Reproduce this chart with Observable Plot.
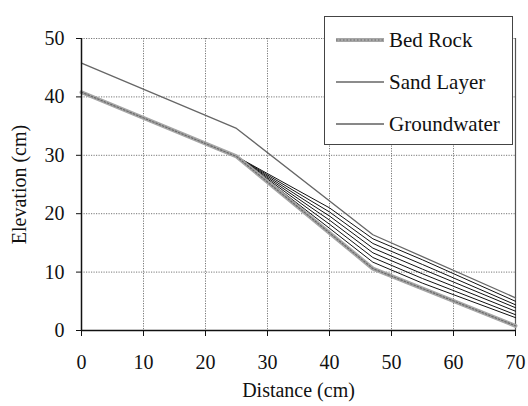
<!DOCTYPE html>
<html>
<head>
<meta charset="utf-8">
<script src="https://cdn.jsdelivr.net/npm/d3@7"></script>
<script src="https://cdn.jsdelivr.net/npm/@observablehq/plot@0.6"></script>
<style>
  html, body { margin: 0; padding: 0; background: white; }
  #wrap { position: relative; width: 528px; height: 406px; font-family: "Liberation Serif", "Times New Roman", Tinos, "DejaVu Serif", "Noto Serif", FreeSerif, serif; }
  #legend { position: absolute; left: 324px; top: 16px; width: 187px; height: 127px; border: 1px solid #444; background: white; }
  .row { position: absolute; left: 0; height: 30px; display: flex; align-items: center; }
  .row svg { margin-left: 11px; }
  .row span { font-size: 21px; color: #111; margin-left: 5px; line-height: 30px; }
</style>
</head>
<body>
<div id="wrap"></div>
<script>
// ---- data ----
const xTicks = [0, 10, 20, 30, 40, 50, 60, 70];
const yTicks = [0, 10, 20, 30, 40, 50];

const seriesNames = ["Bed Rock", "Sand Layer", "Groundwater"];

const bedRockX = [0, 25, 47, 70];
const bedRockY = [40.8, 29.8, 10.6, 0.8];

const sandX = [0, 25, 47, 70];
const sandY = [45.8, 34.6, 16.4, 5.6];

const groundwaterX = [25, 40, 47, 55, 70];
const groundwater1 = [29.8, 21.0, 15.7, 12.1, 5.0];
const groundwater2 = [29.8, 20.3, 14.9, 11.3, 4.4];
const groundwater3 = [29.8, 19.6, 14.1, 10.5, 3.9];
const groundwater4 = [29.8, 18.9, 13.3, 9.7, 3.3];
const groundwater5 = [29.8, 18.2, 12.5, 8.9, 2.7];
const groundwater6 = [29.8, 17.5, 11.7, 8.1, 2.2];
const groundwaterLevels = [groundwater1, groundwater2, groundwater3, groundwater4, groundwater5, groundwater6];

// ---- build tables ----
const bedRock = bedRockX.map((x, i) => ({x, y: bedRockY[i]}));
const sand = sandX.map((x, i) => ({x, y: sandY[i]}));
const gw = groundwaterLevels.flatMap((ys, k) => groundwaterX.map((x, i) => ({x, y: ys[i], level: k})));

const serif = '"Liberation Serif", "Times New Roman", Tinos, "DejaVu Serif", "Noto Serif", FreeSerif, serif';

const chart = Plot.plot({
  width: 528,
  height: 406,
  marginLeft: 81,
  marginRight: 13,
  marginTop: 38,
  marginBottom: 76,
  style: {fontFamily: serif, fontSize: "20px", background: "white", color: "#111", overflow: "visible"},
  x: {domain: [0, 70]},
  y: {domain: [0, 50]},
  marks: [
    Plot.gridX(xTicks, {stroke: "#777", strokeOpacity: 1, strokeDasharray: "1.2,1.3", strokeWidth: 1}),
    Plot.gridY(yTicks, {stroke: "#777", strokeOpacity: 1, strokeDasharray: "1.2,1.3", strokeWidth: 1}),
    Plot.ruleX(xTicks.slice(-1), {stroke: "#555", strokeWidth: 1.2}),
    Plot.axisX({ticks: xTicks, tickSize: 6, tickPadding: 18, tickFormat: d => d, fontSize: 20, fontFamily: serif,
      label: "Distance (cm)", labelAnchor: "center", labelArrow: "none", labelOffset: 66}),
    Plot.axisY({ticks: yTicks, tickSize: 5, tickPadding: 12, tickFormat: d => d, fontSize: 20, fontFamily: serif,
      label: "Elevation (cm)", labelAnchor: "center", labelArrow: "none", labelOffset: 70}),
    Plot.line(gw, {x: "x", y: "y", z: "level", stroke: "#111", strokeWidth: 1}),
    Plot.line(sand, {x: "x", y: "y", stroke: "#666", strokeWidth: 1.3}),
    Plot.line(bedRock, {x: "x", y: "y", stroke: "#a6a6a6", strokeWidth: 4}),
    Plot.line(bedRock, {x: "x", y: "y", stroke: "#6a6a6a", strokeWidth: 1.2, strokeDasharray: "1.5,2"}),
    Plot.ruleY(yTicks.slice(0, 1), {stroke: "#111", strokeWidth: 1.5}),
    Plot.ruleX(xTicks.slice(0, 1), {stroke: "#111", strokeWidth: 1.5})
  ]
});

const wrap = document.getElementById("wrap");
wrap.appendChild(chart);
chart.querySelectorAll("text").forEach(t => t.style.fontFamily = serif);

// ---- legend ----
const legend = document.createElement("div");
legend.id = "legend";
const styles = [
  {stroke: "#a6a6a6", width: 4, dash: true},
  {stroke: "#666", width: 1.3},
  {stroke: "#111", width: 1}
];
seriesNames.forEach((name, i) => {
  const row = document.createElement("div");
  row.className = "row";
  row.style.top = (8 + i * 42) + "px";
  const s = styles[i];
  row.innerHTML = `<svg width="48" height="10"><line x1="0" x2="48" y1="5" y2="5" stroke="${s.stroke}" stroke-width="${s.width}"/>` +
    (s.dash ? `<line x1="0" x2="48" y1="5" y2="5" stroke="#6a6a6a" stroke-width="1.2" stroke-dasharray="1.5,2"/>` : "") +
    `</svg><span>${name}</span>`;
  legend.appendChild(row);
});
wrap.appendChild(legend);
</script>
</body>
</html>
